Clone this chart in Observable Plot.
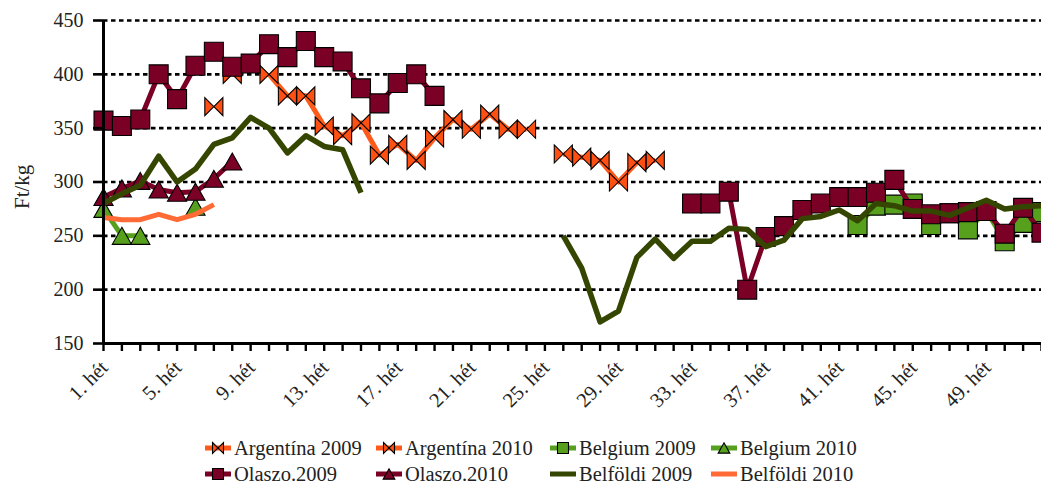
<!DOCTYPE html>
<html><head><meta charset="utf-8">
<script src="https://cdn.jsdelivr.net/npm/d3@7"></script>
<script src="https://cdn.jsdelivr.net/npm/@observablehq/plot@0.6"></script>
<style>
body{margin:0;background:#fff;font-family:"Liberation Serif","Times New Roman","DejaVu Serif","Noto Serif",serif;overflow:hidden;}
#chart{width:1041px;height:430px;}
#legend{position:relative;width:1041px;height:55px;font-size:20.5px;color:#222;}
.item{position:absolute;display:flex;align-items:center;white-space:nowrap;height:24px;}
.item svg{margin-right:3px;}
</style></head><body>
<div id="chart"></div><div id="legend"></div>
<script>
const FONT = '"Liberation Serif", "Times New Roman", "DejaVu Serif", "Noto Serif", serif';
const weeks = [1,2,3,4,5,6,7,8,9,10,11,12,13,14,15,16,17,18,19,20,21,22,23,24,25,26,
  27,28,29,30,31,32,33,34,35,36,37,38,39,40,41,42,43,44,45,46,47,48,49,50,51,52];
const xTickWeeks = [1,5,9,13,17,21,25,29,33,37,41,45,49];
const xTickLabels = ["1. hét","5. hét","9. hét","13. hét","17. hét","21. hét","25. hét",
  "29. hét","33. hét","37. hét","41. hét","45. hét","49. hét"];
const yTicks = [150,200,250,300,350,400,450];
const yGrid = [200,250,300,350,400,450];
const yLabel = "Ft/kg";

const _ = null;
const argentina2009 = [_,_,_,_,_,_,_,400,_,400,380,380,352,343,355,325,335,320,341,358,349,363,349,349,_,326,
  323,320,300,318,320,_,_,_,_,_,_,_,_,_,_,_,_,_,_,_,_,_,_,_,_,_];
const argentina2010 = [_,_,_,_,_,_,370,_,_,_,_,_,_,_,_,_,_,_,_,_,_,_,_,_,_,_,
  _,_,_,_,_,_,_,_,_,_,_,_,_,_,_,_,_,_,_,_,_,_,_,_,_,_];
const belgium2009 = [_,_,_,_,_,_,_,_,_,_,_,_,_,_,_,_,_,_,_,_,_,_,_,_,_,_,
  _,_,_,_,_,_,_,_,_,_,_,_,_,_,_,260,278,279,280,260,271,256,273,245,262,272];
const belgium2010 = [275,250,250,_,_,277,_,_,_,_,_,_,_,_,_,_,_,_,_,_,_,_,_,_,_,_,
  _,_,_,_,_,_,_,_,_,_,_,_,_,_,_,_,_,_,_,_,_,_,_,_,_,_];
const olaszo2009 = [357,352,358,400,377,408,421,407,410,428,416,431,416,412,387,373,392,400,380,_,_,_,_,_,_,_,
  _,_,_,_,_,_,280,280,291,200,249,259,274,280,286,286,290,302,275,270,271,272,273,252,276,253];
const olaszo2010 = [286,294,301,293,290,291,303,319,_,_,_,_,_,_,_,_,_,_,_,_,_,_,_,_,_,_,
  _,_,_,_,_,_,_,_,_,_,_,_,_,_,_,_,_,_,_,_,_,_,_,_,_,_];
const belfoldi2009 = [280,289,297,324,300,312,335,341,360,350,327,343,333,330,290,_,_,_,_,_,_,_,_,_,_,250,
  220,170,180,230,247,229,245,245,257,256,240,246,266,268,274,264,280,278,273,273,269,276,283,275,277,278];
const belfoldi2010 = [267,265,265,270,265,270,279,_,_,_,_,_,_,_,_,_,_,_,_,_,_,_,_,_,_,_,
  _,_,_,_,_,_,_,_,_,_,_,_,_,_,_,_,_,_,_,_,_,_,_,_,_,_];

const seriesNames = ["Argentína 2009","Argentína 2010","Belgium 2009","Belgium 2010",
  "Olaszo.2009","Olaszo.2010","Belföldi 2009","Belföldi 2010"];

const ORANGE = "#ff4f12", ORANGE_LINE = "#ff5a1a", GREEN = "#56a01e", MAROON = "#7a0026",
      OLIVE = "#354600", LORANGE = "#ff6a35";

const bowtie = {draw(ctx, size){ const h = Math.sqrt(size)/2;
  ctx.moveTo(-h,-h); ctx.lineTo(h,h); ctx.lineTo(h,-h); ctx.lineTo(-h,h); ctx.closePath(); }};
const tri = {draw(ctx, size){ const s = Math.sqrt(size);
  ctx.moveTo(0,-0.47*s); ctx.lineTo(0.53*s,0.47*s); ctx.lineTo(-0.53*s,0.47*s); ctx.closePath(); }};
const sq = {draw(ctx, size){ const h = Math.sqrt(size)/2; ctx.rect(-h,-h,2*h,2*h); }};

const styles = [
  {vals: argentina2009, line: ORANGE_LINE, fill: ORANGE, symbol: bowtie, r: 10.2, w: 5},
  {vals: argentina2010, line: ORANGE_LINE, fill: ORANGE, symbol: bowtie, r: 10.2, w: 5},
  {vals: belgium2009, line: GREEN, fill: GREEN, symbol: sq, r: 10.7, w: 5},
  {vals: belgium2010, line: GREEN, fill: GREEN, symbol: tri, r: 10.2, w: 5},
  {vals: olaszo2009, line: MAROON, fill: MAROON, symbol: sq, r: 10.7, w: 5},
  {vals: olaszo2010, line: MAROON, fill: MAROON, symbol: tri, r: 10.2, w: 5},
  {vals: belfoldi2009, line: OLIVE, symbol: null, w: 5.5},
  {vals: belfoldi2010, line: LORANGE, symbol: null, w: 5}
];

const marks = [
  Plot.ruleY(yGrid, {stroke: "black", strokeWidth: 2.6, strokeDasharray: "4.5,3.5"})
];
styles.forEach((s, i) => {
  const data = weeks.map((w, j) => ({week: w, value: s.vals[j], series: seriesNames[i]}));
  marks.push(Plot.line(data, {x: "week", y: "value", stroke: s.line, strokeWidth: s.w,
    strokeLinejoin: "round", strokeLinecap: "butt"}));
  if (s.symbol) {
    marks.push(Plot.dot(data.filter(d => d.value != null), {x: "week", y: "value", symbol: s.symbol,
      r: s.r, fill: s.fill, stroke: "black", strokeWidth: 1.1}));
  }
});
marks.push(
  Plot.ruleX([1], {stroke: "black", strokeWidth: 3}),
  Plot.ruleY([150], {stroke: "black", strokeWidth: 3}),
  Plot.axisY({ticks: yTicks, tickSize: 10, tickPadding: 10, strokeWidth: 2.6, label: null,
    tickFormat: d => String(d), fontSize: 20, fill: "#222"}),
  Plot.axisX({ticks: weeks, tickSize: 8, strokeWidth: 2.4, tickFormat: () => "", label: null}),
  Plot.axisX({ticks: xTickWeeks, tickSize: 0, tickRotate: -45, label: null, fontSize: 20.5, fill: "#222",
    tickFormat: d => xTickLabels[xTickWeeks.indexOf(d)], dx: 1, dy: 9}),
  Plot.text([yLabel], {frameAnchor: "left", rotate: -90, dx: -81, dy: 27, fontSize: 21, fill: "#222"})
);

const chart = Plot.plot({
  width: 1041, height: 430,
  marginLeft: 103, marginRight: 0, marginTop: 20, marginBottom: 87,
  style: {fontFamily: FONT, fontSize: "20px", background: "#fff", overflow: "visible"},
  x: {type: "linear", domain: [1, 52]},
  y: {domain: [150, 450]},
  marks
});
chart.setAttribute("font-family", FONT);
document.getElementById("chart").appendChild(chart);

// legend
const legendPos = [[205,18],[376,18],[550,18],[711,18],[205,44],[376,44],[550,44],[711,44]];
const legend = document.getElementById("legend");
styles.forEach((s, i) => {
  const div = document.createElement("div");
  div.className = "item";
  div.style.left = legendPos[i][0] + "px";
  div.style.top = (legendPos[i][1] - 12) + "px";
  const svg = d3.create("svg").attr("width", 26).attr("height", 24);
  svg.append("line").attr("x1", 0).attr("x2", 26).attr("y1", 12).attr("y2", 12)
    .attr("stroke", s.line).attr("stroke-width", 5);
  if (s.symbol) {
    const path = d3.path();
    s.symbol.draw(path, 121);
    svg.append("path").attr("d", path.toString()).attr("transform", "translate(13,12)")
      .attr("fill", s.fill).attr("stroke", "black").attr("stroke-width", 1.1);
  }
  div.appendChild(svg.node());
  const span = document.createElement("span");
  span.textContent = seriesNames[i];
  div.appendChild(span);
  legend.appendChild(div);
});
</script>
</body></html>
